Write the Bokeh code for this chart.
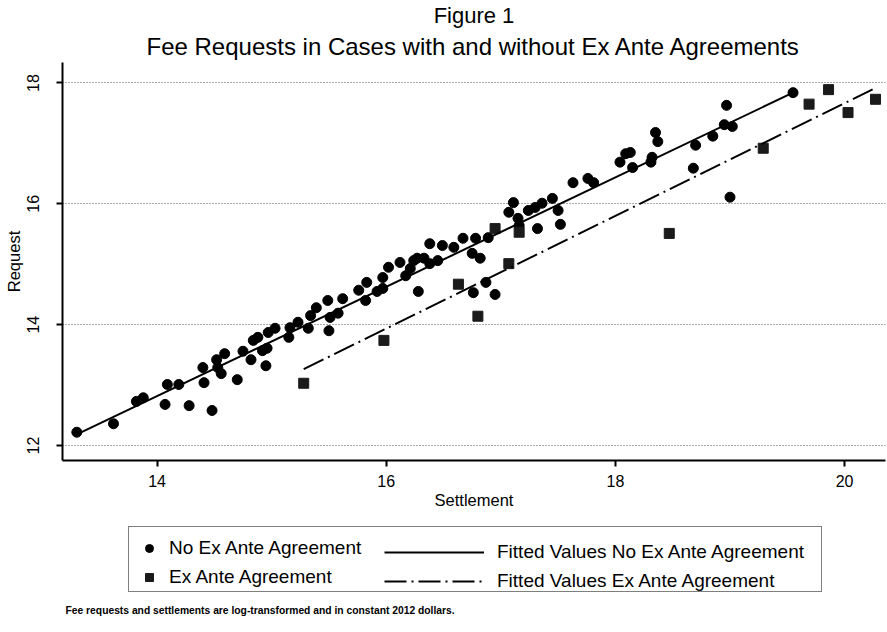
import numpy as np
from bokeh.plotting import figure
from bokeh.layouts import column
from bokeh.models import Label, Legend, LegendItem, FixedTicker, Range1d, Title
from bokeh.embed import file_html
from bokeh.resources import INLINE

# ---- data ----
no_x = [13.30, 13.62, 13.82, 13.88, 14.07, 14.09, 14.19, 14.28, 14.40, 14.41,
        14.48, 14.52, 14.53, 14.56, 14.59, 14.70, 14.75, 14.82, 14.84, 14.88,
        14.92, 14.96, 14.95, 14.97, 15.03, 15.15, 15.16, 15.23, 15.32, 15.34,
        15.39, 15.49, 15.50, 15.51, 15.58, 15.62, 15.76, 15.82, 15.83, 15.92,
        15.97, 15.97, 16.02, 16.12, 16.17, 16.21, 16.24, 16.27, 16.33, 16.28,
        16.38, 16.49, 16.59, 16.38, 16.45, 16.67, 16.78, 16.75, 16.82, 16.89,
        16.76, 16.87, 16.95, 17.07, 17.11, 17.15, 17.16, 17.24, 17.30, 17.36,
        17.45, 17.32, 17.50, 17.52, 17.63, 17.76, 17.81, 18.04, 18.09, 18.13,
        18.15, 18.31, 18.32, 18.35, 18.37, 18.68, 18.70, 18.85, 18.95, 19.02,
        18.97, 19.00, 19.55]
no_y = [12.22, 12.36, 12.73, 12.79, 12.68, 13.01, 13.01, 12.66, 13.29, 13.04,
        12.58, 13.42, 13.29, 13.19, 13.52, 13.09, 13.56, 13.42, 13.74, 13.79,
        13.57, 13.61, 13.32, 13.87, 13.94, 13.79, 13.95, 14.04, 13.94, 14.15,
        14.28, 14.40, 13.90, 14.12, 14.19, 14.43, 14.57, 14.40, 14.70, 14.55,
        14.60, 14.78, 14.95, 15.03, 14.81, 14.93, 15.06, 15.10, 15.10, 14.55,
        15.34, 15.31, 15.28, 15.01, 15.06, 15.43, 15.43, 15.18, 15.10, 15.44,
        14.53, 14.70, 14.50, 15.86, 16.02, 15.76, 15.64, 15.89, 15.94, 16.01,
        16.09, 15.59, 15.89, 15.66, 16.35, 16.42, 16.35, 16.69, 16.83, 16.85,
        16.60, 16.69, 16.77, 17.18, 17.03, 16.59, 16.97, 17.12, 17.31, 17.28,
        17.63, 16.11, 17.84]
ex_x = [15.28, 15.98, 16.63, 16.80, 16.95, 17.07, 17.16, 18.47, 19.29, 19.69,
        19.86, 20.03, 20.27]
ex_y = [13.03, 13.74, 14.67, 14.14, 15.59, 15.01, 15.53, 15.51, 16.92, 17.65,
        17.89, 17.51, 17.73]

x_ticks = [14, 16, 18, 20]
y_ticks = [12, 14, 16, 18]

title_text = "Figure 1"
subtitle_text = "Fee Requests in Cases with and without Ex Ante Agreements"
x_label = "Settlement"
y_label = "Request"
note_text = "Fee requests and settlements are log-transformed and in constant 2012 dollars."
legend_labels = ["No Ex Ante Agreement", "Ex Ante Agreement",
                 "Fitted Values No Ex Ante Agreement", "Fitted Values Ex Ante Agreement"]

FONT = "Liberation Sans"
W = 887

# ================= main chart =================
p = figure(width=W, height=515, output_backend="svg", toolbar_location=None,
           x_range=Range1d(13.175, 20.357), y_range=Range1d(11.752, 18.339),
           min_border_left=62, min_border_right=2, min_border_top=62,
           min_border_bottom=55)
p.title.text = ""
p.outline_line_color = None
p.background_fill_color = "white"
p.border_fill_color = "white"

p.add_layout(Title(text=subtitle_text, align="center", text_font=FONT,
                   text_font_size="24px", text_font_style="normal",
                   text_color="black", standoff=6), "above")
p.add_layout(Title(text=title_text, align="center", text_font=FONT,
                   text_font_size="22px", text_font_style="normal",
                   text_color="black", standoff=0), "above")

for ax in (p.xaxis[0], p.yaxis[0]):
    ax.axis_line_width = 2
    ax.axis_line_color = "black"
    ax.major_tick_line_width = 2
    ax.major_tick_line_color = "black"
    ax.major_tick_in = 0
    ax.major_tick_out = 6
    ax.minor_tick_line_color = None
    ax.major_label_text_font = FONT
    ax.major_label_text_font_size = "16px"
    ax.major_label_text_color = "black"
    ax.axis_label_text_font = FONT
    ax.axis_label_text_font_size = "16.5px"
    ax.axis_label_text_font_style = "normal"
    ax.axis_label_text_color = "black"
p.xaxis.ticker = FixedTicker(ticks=x_ticks)
p.yaxis.ticker = FixedTicker(ticks=y_ticks)
p.xaxis.axis_label = x_label
p.yaxis.axis_label = y_label
p.xaxis.major_label_standoff = 8
p.xaxis.axis_label_standoff = 1
p.yaxis.major_label_standoff = 17
p.yaxis.axis_label_standoff = 2
p.yaxis.major_label_orientation = "vertical"

p.xgrid.grid_line_color = None
p.ygrid.grid_line_color = "#555555"
p.ygrid.grid_line_width = 1
p.ygrid.grid_line_dash = "1 2"

p.scatter(no_x, no_y, marker="circle", size=10, color="black")
p.scatter(ex_x, ex_y, marker="square", size=10, color="#1a1a1a")

b1, a1 = np.polyfit(no_x, no_y, 1)
fx1 = np.array([min(no_x), max(no_x)])
p.line(fx1, a1 + b1 * fx1, line_color="black", line_width=2)
b2, a2 = np.polyfit(ex_x, ex_y, 1)
fx2 = np.array([min(ex_x), max(ex_x)])
p.line(fx2, a2 + b2 * fx2, line_color="black", line_width=2, line_dash="22 5 2 5")

# ================= legend + note strip =================
q = figure(width=W, height=117, output_backend="svg", toolbar_location=None,
           x_range=Range1d(0, 1), y_range=Range1d(0, 1),
           x_axis_location=None, y_axis_location=None, min_border=0)
q.outline_line_color = None
q.grid.visible = False
q.background_fill_color = "white"
q.border_fill_color = "white"

# legend-key renderers (the same series; they fall outside this strip's ranges)
k_no = q.scatter(no_x, no_y, marker="circle", size=10, color="black")
k_ex = q.scatter(ex_x, ex_y, marker="square", size=10, color="#1a1a1a")
k_f1 = q.line(fx1, a1 + b1 * fx1, line_color="black", line_width=2)
k_f2 = q.line(fx2, a2 + b2 * fx2, line_color="black", line_width=2, line_dash="22 5 2 5")

# (this strip's frame is aligned with the chart's frame: x=0 is at the page's x=62)
common = dict(padding=3, spacing=7, glyph_height=20, label_height=20,
              label_text_font=FONT, label_text_font_size="19px",
              label_text_color="black", margin=0,
              title=" ", title_text_font_size="6px", title_standoff=1)
leg1 = Legend(items=[LegendItem(label=legend_labels[0], renderers=[k_no]),
                     LegendItem(label=legend_labels[1], renderers=[k_ex])],
              location=(66, 40), glyph_width=34, label_standoff=3,
              label_width=649, border_line_color="black", border_line_width=1.5,
              background_fill_color="white", background_fill_alpha=1.0, **common)
leg2 = Legend(items=[LegendItem(label=legend_labels[2], renderers=[k_f1]),
                     LegendItem(label=legend_labels[3], renderers=[k_f2])],
              location=(322, 40), glyph_width=100, label_standoff=13,
              border_line_color=None, background_fill_alpha=0.0, **common)
q.add_layout(leg1)
q.add_layout(leg2)

q.add_layout(Label(x=3, y=22, x_units="screen", y_units="screen", text=note_text,
                   text_font=FONT, text_font_size="10.3px", text_font_style="bold",
                   text_align="left", text_baseline="middle", text_color="black"))

layout = column(p, q, spacing=0)
open("out.html", "w").write(file_html(layout, INLINE))
